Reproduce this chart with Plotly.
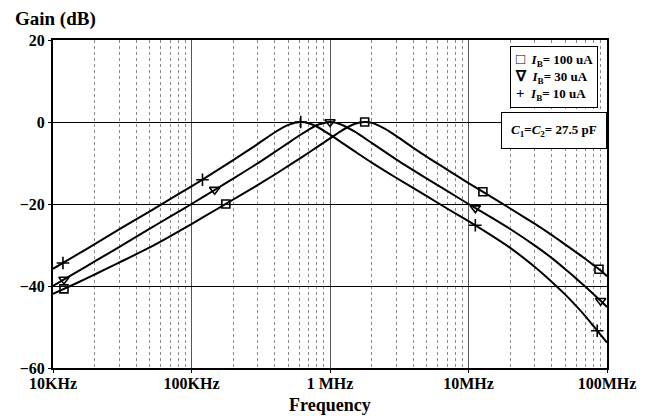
import plotly.graph_objects as go

# Frequency response of the band-pass filter for three bias currents
# (C1 = C2 = 27.5 pF). Frequencies in Hz, gain in dB.

freq_10uA = [10e3, 15e3, 20e3, 30e3, 50e3, 70e3, 100e3, 150e3, 200e3, 300e3, 400e3,
             500e3, 615e3, 700e3, 800e3, 1e6, 1.2e6, 1.5e6, 2e6, 3e6, 5e6, 7e6, 10e6,
             15e6, 20e6, 30e6, 40e6, 50e6, 60e6, 70e6, 80e6, 90e6, 100e6]
gain_10uA = [-35.8, -32.3, -29.8, -26.2, -21.8, -18.8, -15.7, -12.0, -9.3, -5.4, -2.5,
             -0.7, 0.0, -0.3, -1.1, -3.1, -4.9, -7.1, -9.9, -13.6, -18.1, -21.1, -24.2,
             -27.9, -30.7, -35.3, -39.0, -42.1, -44.9, -47.4, -49.8, -51.9, -53.8]

freq_30uA = [10e3, 15e3, 20e3, 30e3, 50e3, 70e3, 100e3, 150e3, 200e3, 300e3, 400e3,
             500e3, 600e3, 700e3, 800e3, 1e6, 1.2e6, 1.5e6, 2e6, 3e6, 5e6, 7e6, 10e6,
             15e6, 20e6, 30e6, 40e6, 50e6, 60e6, 70e6, 80e6, 90e6, 100e6]
gain_30uA = [-40.0, -36.5, -34.0, -30.5, -26.0, -23.1, -20.0, -16.4, -13.8, -10.1, -7.3,
             -5.1, -3.3, -1.9, -0.8, 0.0, -0.6, -2.3, -5.1, -9.1, -13.8, -16.8, -20.0,
             -23.5, -26.1, -30.1, -33.2, -35.9, -38.2, -40.2, -42.0, -43.6, -45.1]

freq_100uA = [10e3, 15e3, 20e3, 30e3, 50e3, 70e3, 100e3, 150e3, 200e3, 300e3, 400e3,
              500e3, 600e3, 700e3, 800e3, 1e6, 1.2e6, 1.5e6, 1.78e6, 2e6, 2.5e6, 3e6,
              4e6, 5e6, 7e6, 10e6, 15e6, 20e6, 30e6, 40e6, 50e6, 60e6, 70e6, 80e6,
              90e6, 100e6]
gain_100uA = [-41.9, -39.2, -37.2, -34.3, -30.6, -27.9, -24.9, -21.4, -18.9, -15.4, -12.8,
              -10.7, -9.0, -7.5, -6.2, -4.0, -2.2, -0.5, 0.0, -0.2, -1.7, -3.4,
              -6.3, -8.5, -11.6, -14.9, -18.5, -21.1, -24.8, -27.6, -29.9, -31.8, -33.4, -34.9,
              -36.2, -37.6]

# Marker positions along each curve
mark_f_100uA = [12e3, 177e3, 1.78e6, 12.7e6, 87.5e6]
mark_g_100uA = [-40.7, -20.0, 0.0, -17.0, -35.9]
mark_f_30uA = [12e3, 147e3, 1e6, 11.2e6, 90e6]
mark_g_30uA = [-38.4, -16.5, 0.0, -21.0, -43.6]
mark_f_10uA = [11.8e3, 120e3, 615e3, 11.2e6, 85e6]
mark_g_10uA = [-34.4, -14.1, 0.0, -25.2, -50.9]

legend_labels = ["100 uA", "30 uA", "10 uA"]
legend_glyphs = ["\u25a1", "\u2207", "+"]

x_tickvals = [1e4, 1e5, 1e6, 1e7, 1e8]
x_ticktext = ["10KHz", "100KHz", "1 MHz", "10MHz", "100MHz"]
x_minor = [k * 10 ** d for d in range(4, 8) for k in range(2, 10)]
y_tickvals = [20, 0, -20, -40, -60]

SERIF = "Liberation Serif"

fig = go.Figure()

curves = [
    (freq_100uA, gain_100uA),
    (freq_30uA, gain_30uA),
    (freq_10uA, gain_10uA),
]
for fx, gy in curves:
    fig.add_trace(go.Scatter(
        x=fx, y=gy, mode="lines", showlegend=False,
        line=dict(color="black", width=2, shape="spline", smoothing=0.6),
        hoverinfo="skip",
    ))

markers = [
    (mark_f_100uA, mark_g_100uA, "square-open", 8),
    (mark_f_30uA, mark_g_30uA, "triangle-down-open", 9),
    (mark_f_10uA, mark_g_10uA, "cross-thin-open", 9),
]
for fx, gy, sym, sz in markers:
    fig.add_trace(go.Scatter(
        x=fx, y=gy, mode="markers", showlegend=False,
        marker=dict(symbol=sym, size=sz, color="black",
                    line=dict(color="black", width=1.6)),
    ))

# Legend box listing the bias currents
legend_text = "<br>".join(
    f"<span style='font-size:15px'>{g}</span>&nbsp;&nbsp;<i>I</i><sub>B</sub>= {lab}"
    for g, lab in zip(legend_glyphs, legend_labels)
)
fig.add_annotation(
    xref="paper", yref="paper", x=0.905, y=0.982,
    text=legend_text, align="left",
    showarrow=False, xanchor="center", yanchor="top",
    font=dict(family=SERIF, size=13, color="black", weight=700),
    bgcolor="white", bordercolor="black", borderwidth=1, borderpad=4,
)

fig.add_annotation(
    xref="paper", yref="paper", x=0.905, y=0.723,
    text="<i>C</i><sub>1</sub>=<i>C</i><sub>2</sub>= 27.5 pF",
    showarrow=False, xanchor="center", yanchor="middle",
    font=dict(family=SERIF, size=13, color="black", weight=700),
    bgcolor="white", bordercolor="black", borderwidth=1, borderpad=9,
)

fig.add_annotation(
    xref="paper", yref="paper", x=-0.073, y=1.064,
    text="Gain (dB)", showarrow=False, xanchor="left", yanchor="middle",
    font=dict(family=SERIF, size=19, color="black", weight=700),
)

fig.add_annotation(
    xref="paper", yref="paper", x=0.5, y=-0.112,
    text="Frequency", showarrow=False, xanchor="center", yanchor="middle",
    font=dict(family=SERIF, size=18, color="black", weight=700),
)

fig.update_layout(
    width=653, height=416, autosize=False,
    margin=dict(l=53, r=46, t=40, b=48),
    paper_bgcolor="white", plot_bgcolor="white",
    font=dict(family=SERIF, color="black"),
    showlegend=False,
    xaxis=dict(
        type="log", range=[4, 8], automargin=False,
        tickmode="array", tickvals=x_tickvals, ticktext=x_ticktext,
        tickfont=dict(family=SERIF, size=16, color="black", weight=700),
        ticklabelstandoff=-3,
        showgrid=True, gridcolor="#555555", gridwidth=1,
        minor=dict(tickmode="array", tickvals=x_minor, showgrid=True,
                   gridcolor="#8a8a8a", griddash="dot", gridwidth=1, ticks=""),
        showline=True, mirror=True, linecolor="black", linewidth=2,
        ticks="outside", ticklen=3, tickcolor="black",
        zeroline=False,
    ),
    yaxis=dict(
        range=[-60, 20], tickmode="array", tickvals=y_tickvals, automargin=False,
        tickfont=dict(family=SERIF, size=16, color="black", weight=700),
        showgrid=True, gridcolor="black", gridwidth=1,
        showline=True, mirror=True, linecolor="black", linewidth=2,
        ticks="outside", ticklen=3, tickcolor="black",
        zeroline=False,
    ),
)

fig.write_html("out.html")
